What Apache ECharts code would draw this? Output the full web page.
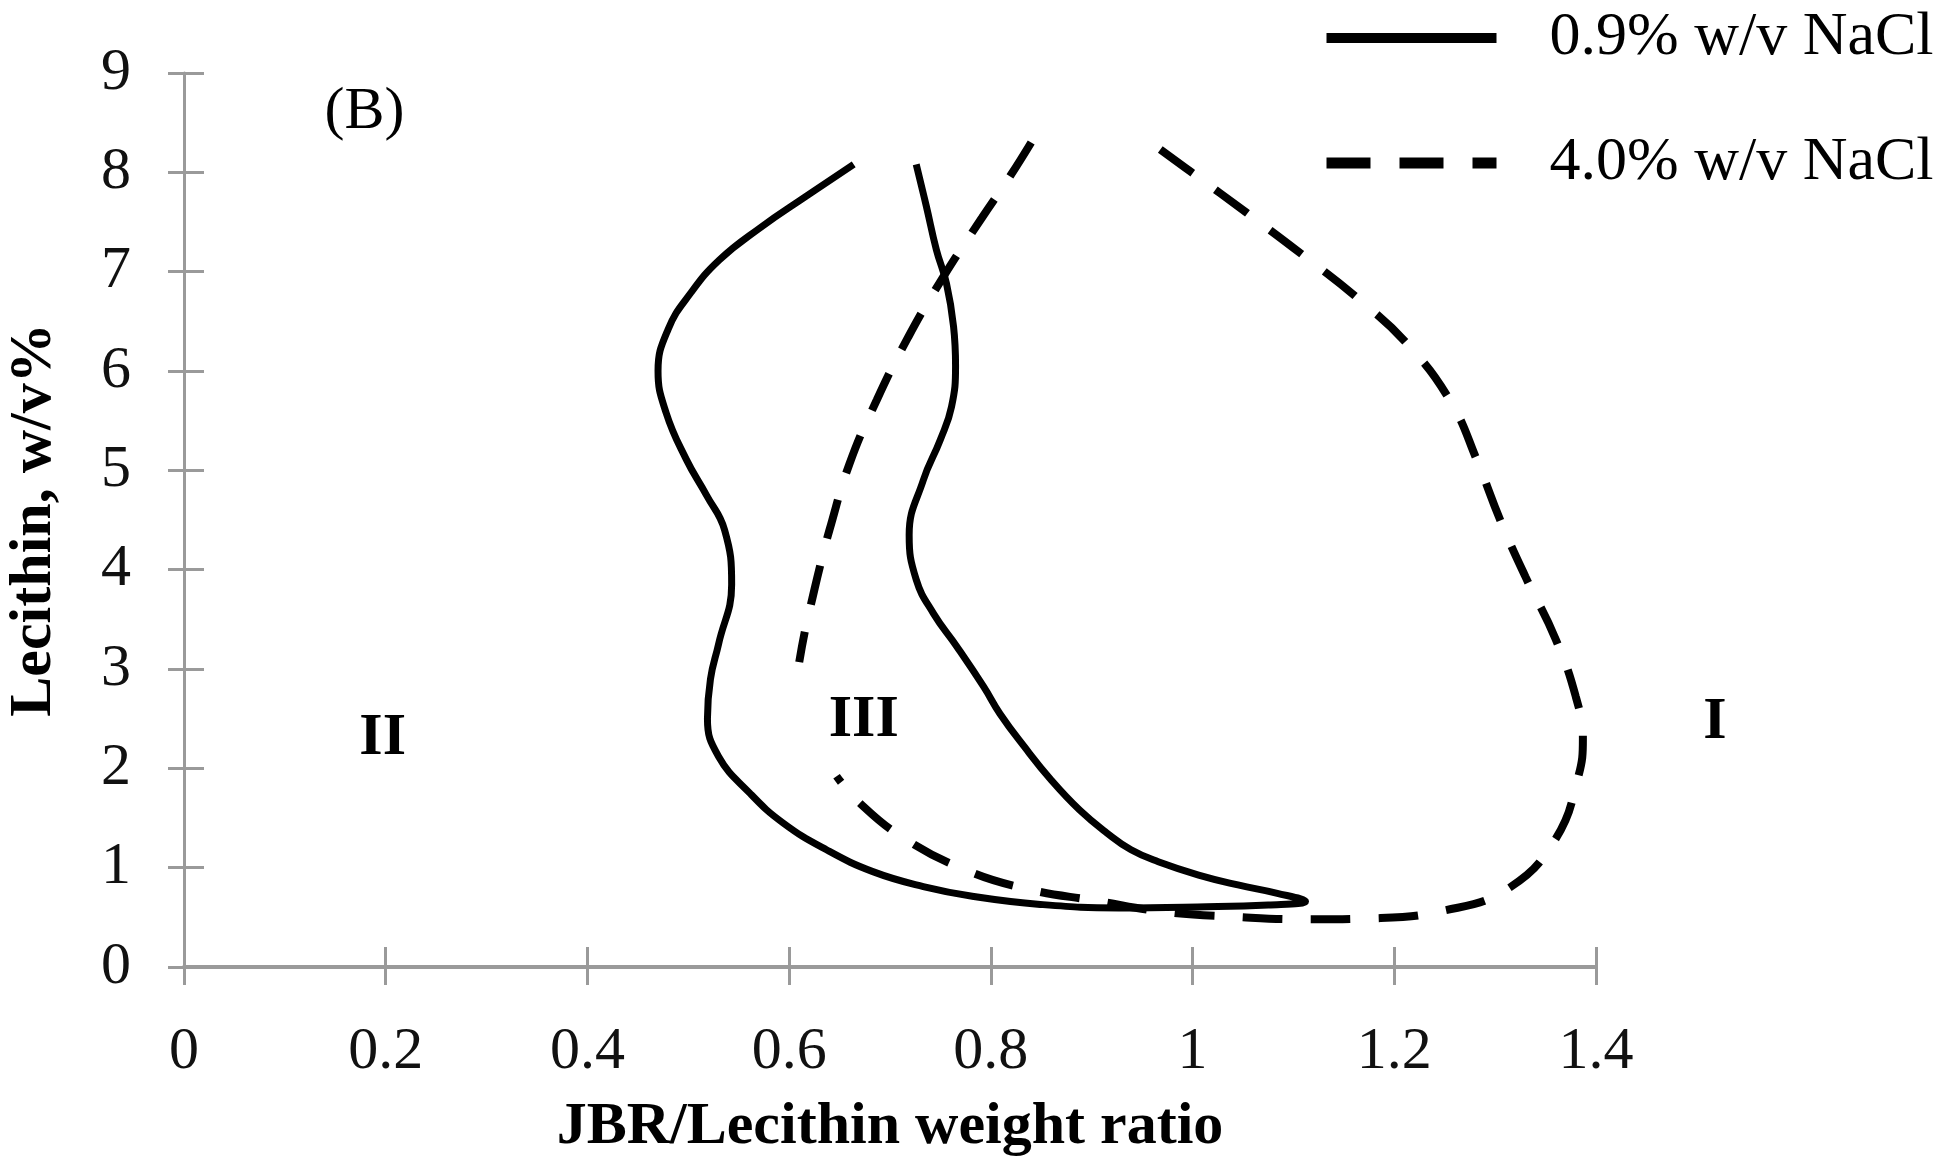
<!DOCTYPE html>
<html>
<head>
<meta charset="utf-8">
<title>Lecithin / JBR phase diagram (B)</title>
<script src="https://cdn.jsdelivr.net/npm/echarts@6/dist/echarts.min.js"></script>
<style>
    html, body { margin: 0; padding: 0; background: #fff; }
    #chart { width: 1938px; height: 1165px; }
</style>
</head>
<body>
<div id="chart"></div>
<script>
    // tick labels
    var xTickLabels = ['0', '0.2', '0.4', '0.6', '0.8', '1', '1.2', '1.4'];
    var yTickLabels = ['0', '1', '2', '3', '4', '5', '6', '7', '8', '9'];

    // 0.9% w/v NaCl boundary [JBR/lecithin ratio, lecithin w/v%]
    var nacl09 = [
        [0.664, 8.08], [0.617, 7.76], [0.571, 7.44], [0.531, 7.12], [0.502, 6.78],
        [0.480, 6.42], [0.470, 6.00], [0.478, 5.58], [0.498, 5.11], [0.518, 4.75],
        [0.536, 4.40], [0.543, 3.85], [0.530, 3.25], [0.522, 2.90], [0.519, 2.50],
        [0.530, 2.12], [0.561, 1.75], [0.594, 1.45], [0.637, 1.18], [0.683, 0.96],
        [0.733, 0.81], [0.783, 0.71], [0.849, 0.63], [0.927, 0.595], [1.005, 0.605],
        [1.075, 0.625], [1.112, 0.66], [1.084, 0.742], [1.045, 0.826], [1.006, 0.926],
        [0.966, 1.06], [0.939, 1.18], [0.915, 1.35], [0.888, 1.58], [0.860, 1.88],
        [0.833, 2.22], [0.809, 2.55], [0.793, 2.82], [0.766, 3.23], [0.743, 3.56],
        [0.726, 3.90], [0.719, 4.35], [0.733, 4.90], [0.750, 5.31], [0.761, 5.64],
        [0.765, 6.05], [0.763, 6.45], [0.756, 6.88], [0.746, 7.22], [0.736, 7.66],
        [0.726, 8.08]
    ];

    // 4.0% w/v NaCl boundary, upper-left branch (top end first)
    var nacl40Upper = [
        [0.840, 8.30], [0.819, 7.96], [0.791, 7.54], [0.753, 6.95], [0.718, 6.34],
        [0.687, 5.71], [0.660, 5.07], [0.640, 4.40], [0.631, 4.05], [0.623, 3.71],
        [0.616, 3.40], [0.610, 3.07]
    ];

    // 4.0% w/v NaCl boundary, right / lower branch (top end first)
    var nacl40Outer = [
        [0.968, 8.23], [0.999, 8.00], [1.054, 7.59], [1.109, 7.17], [1.164, 6.73],
        [1.214, 6.26], [1.256, 5.69], [1.282, 5.10], [1.305, 4.50], [1.330, 3.93],
        [1.360, 3.30], [1.380, 2.72], [1.387, 2.30], [1.382, 1.90], [1.360, 1.29],
        [1.313, 0.79], [1.248, 0.565], [1.179, 0.49], [1.111, 0.48], [1.042, 0.505],
        [0.972, 0.555], [0.905, 0.665], [0.834, 0.79], [0.772, 0.99], [0.712, 1.31],
        [0.670, 1.65], [0.647, 1.92]
    ];

    // region / panel annotations [x, y, text]
    var regionLabels = [[0.197, 2.30, 'II'], [0.674, 2.48, 'III'], [1.518, 2.46, 'I']];
    var panelTag = [[0.179, 8.60, '(B)']];

    var serif = '"Liberation Serif", "Times New Roman", serif';
    var axisGrey = '#9a9a9a';

    var chart = echarts.init(document.getElementById('chart'), null, { renderer: 'canvas' });

    // second axis per direction: only inward ticks, so ticks cross the axis line
    function tickOnlyAxis(min, max, interval, len, position) {
        return {
            type: 'value', min: min, max: max, interval: interval, position: position,
            axisLine: { show: false, onZero: false },
            axisTick: { show: true, inside: true, length: len, lineStyle: { color: axisGrey, width: 3 } },
            axisLabel: { show: false },
            splitLine: { show: false }
        };
    }

    function curve(name, data, width, dash) {
        return {
            name: name, type: 'line', data: data,
            smooth: 0.45, symbol: 'none', silent: true,
            itemStyle: { color: '#000' },
            lineStyle: { color: '#000', width: width, type: dash }
        };
    }

    function textMarks(name, data, weight) {
        return {
            name: name, type: 'scatter', data: data,
            symbolSize: 0, clip: false, silent: true,
            itemStyle: { color: '#000' },
            label: {
                show: true, position: 'inside', opacity: 1,
                formatter: function (p) { return p.value[2]; },
                fontFamily: serif, fontSize: 60, fontWeight: weight, color: '#000'
            }
        };
    }

    var option = {
        backgroundColor: '#fff',
        animation: false,
        grid: { left: 184, right: 342, top: 73, bottom: 198, outerBoundsMode: 'none', containLabel: false },
        legend: {
            orient: 'vertical',
            left: 1321,
            top: 7,
            padding: 0,
            itemGap: 63,
            itemWidth: 170,
            itemHeight: 12,
            selectedMode: false,
            lineStyle: { width: 'inherit' },
            textStyle: { fontFamily: serif, fontSize: 62, lineHeight: 60, color: '#000', padding: [0, 0, 0, 48] },
            data: [
                { name: '0.9% w/v NaCl', lineStyle: { width: 10, type: 'solid' } },
                { name: '4.0% w/v NaCl', lineStyle: { width: 11, type: [44, 29] } }
            ]
        },
        xAxis: [
            {
                type: 'value', min: 0, max: 1.4, interval: 0.2, position: 'bottom',
                name: 'JBR/Lecithin weight ratio',
                nameLocation: 'middle',
                nameGap: 130,
                nameTextStyle: { fontFamily: serif, fontSize: 60, fontWeight: 'bold', color: '#000' },
                axisLine: { show: true, onZero: false, lineStyle: { color: axisGrey, width: 4 } },
                axisTick: { show: true, length: 18, lineStyle: { color: axisGrey, width: 3 } },
                axisLabel: {
                    margin: 55, fontFamily: serif, fontSize: 60, lineHeight: 60, color: '#111',
                    formatter: function (v, i) { return xTickLabels[i]; }
                },
                splitLine: { show: false }
            },
            tickOnlyAxis(0, 1.4, 0.2, 20, 'bottom')
        ],
        yAxis: [
            {
                type: 'value', min: 0, max: 9, interval: 1, position: 'left',
                name: 'Lecithin, w/v%',
                nameLocation: 'middle',
                nameGap: 120,
                nameTextStyle: { fontFamily: serif, fontSize: 60, fontWeight: 'bold', color: '#000' },
                axisLine: { show: true, onZero: false, lineStyle: { color: axisGrey, width: 3 } },
                axisTick: { show: true, length: 16, lineStyle: { color: axisGrey, width: 3 } },
                axisLabel: {
                    margin: 53, fontFamily: serif, fontSize: 60, lineHeight: 60, color: '#111',
                    formatter: function (v, i) { return yTickLabels[i]; }
                },
                splitLine: { show: false }
            },
            tickOnlyAxis(0, 9, 1, 20, 'left')
        ],
        series: [
            curve('0.9% w/v NaCl', nacl09, 7, 'solid'),
            curve('4.0% w/v NaCl', nacl40Upper, 8, [40, 28]),
            curve('4.0% w/v NaCl', nacl40Outer, 8, [40, 28]),
            textMarks('regions', regionLabels, 'bold'),
            textMarks('panel', panelTag, 'normal')
        ]
    };

    chart.setOption(option);
</script>
</body>
</html>
